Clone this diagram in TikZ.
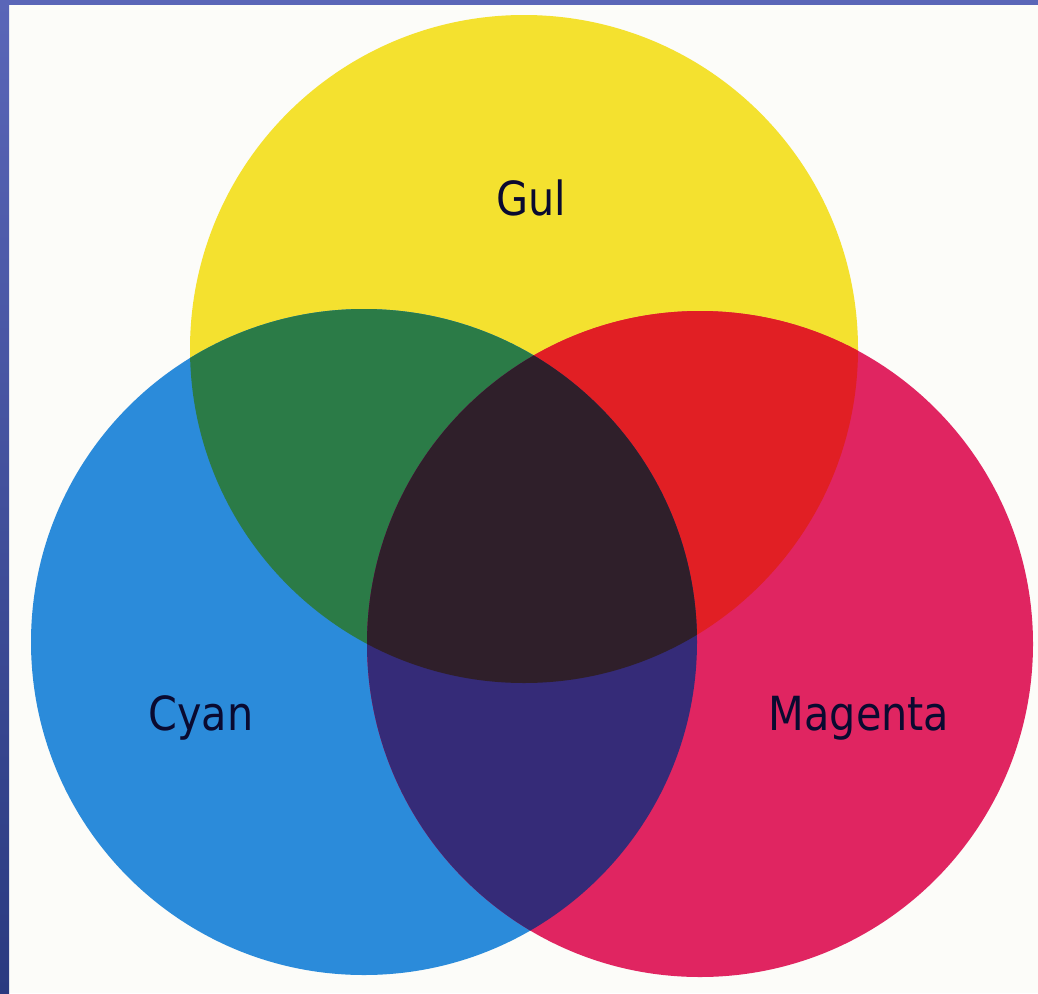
\documentclass[tikz,border=0pt]{standalone}
\usepackage{fontspec}
\newfontfamily\labelfont[FakeStretch=0.88]{DejaVu Sans}
\definecolor{paper}{HTML}{FCFCF9}
\definecolor{cY}{HTML}{F4E12F}
\definecolor{cC}{HTML}{2B8BDA}
\definecolor{cM}{HTML}{E02561}
\definecolor{cYC}{HTML}{2B7B47}
\definecolor{cYM}{HTML}{E11F24}
\definecolor{cCM}{HTML}{352B78}
\definecolor{cYCM}{HTML}{2F1F2A}
\definecolor{ink}{HTML}{0A0A30}
\definecolor{stripA}{HTML}{5A66B8}
\definecolor{stripB}{HTML}{7A8CB4}
\definecolor{stripC}{HTML}{2A3A80}
\tikzset{
  lbl/.style={font=\labelfont\fontsize{47}{50}\selectfont, text=ink, anchor=base, inner sep=0pt},
}
\begin{document}
\begin{tikzpicture}[x=1pt,y=-1pt]
\useasboundingbox (0,0) rectangle (1038,993);
% paper and border strips
\fill[paper] (0,0) rectangle (1038,993);
\shade[top color=stripA, middle color=stripB, bottom color=stripC] (0,0) rectangle (9,993);
\fill[stripA] (0,0) rectangle (1038,5);
% circles
\coordinate (Yc) at (524,349);
\coordinate (Cc) at (364,642);
\coordinate (Mc) at (700,644);
\def\rY{334}
\def\rC{333}
\def\rM{333}
\fill[cY] (Yc) circle[radius=\rY];
\fill[cC] (Cc) circle[radius=\rC];
\fill[cM] (Mc) circle[radius=\rM];
\begin{scope}
  \clip (Yc) circle[radius=\rY];
  \fill[cYC] (Cc) circle[radius=\rC];
\end{scope}
\begin{scope}
  \clip (Yc) circle[radius=\rY];
  \fill[cYM] (Mc) circle[radius=\rM];
\end{scope}
\begin{scope}
  \clip (Cc) circle[radius=\rC];
  \fill[cCM] (Mc) circle[radius=\rM];
\end{scope}
\begin{scope}
  \clip (Yc) circle[radius=\rY];
  \clip (Cc) circle[radius=\rC];
  \fill[cYCM] (Mc) circle[radius=\rM];
\end{scope}
% labels
\node[lbl] (gul) at (531,215) {Gul};
\node[lbl] (cyan) at (201,730) {Cyan};
\node[lbl] (magenta) at (859,730) {Magenta};
\end{tikzpicture}
\end{document}
